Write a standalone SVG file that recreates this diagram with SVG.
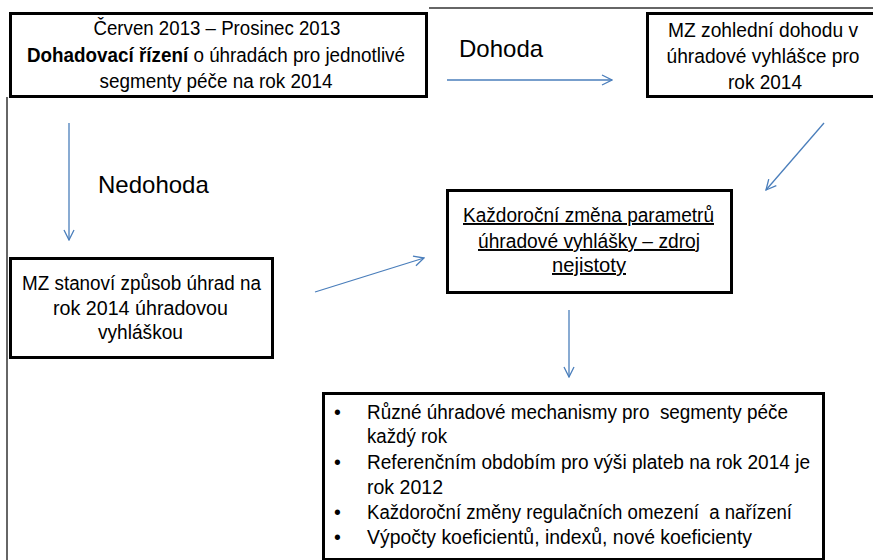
<svg xmlns="http://www.w3.org/2000/svg" width="873" height="560" viewBox="0 0 873 560">
<style>
  .box{fill:#fff;stroke:#000;stroke-width:3}
  .t{font-family:"Liberation Sans",Arial,sans-serif;font-size:19.5px;fill:#000}
  .c{text-anchor:middle}
  .lbl{font-family:"Liberation Sans",Arial,sans-serif;font-size:24px;fill:#000}
  .con{fill:none;stroke:#4a7ebb;stroke-width:1.3}
  .frame{fill:none;stroke:#333;stroke-width:1.5}
</style>
<defs>
  <marker id="ah" viewBox="0 0 12 12" refX="11" refY="6" markerWidth="12" markerHeight="12" markerUnits="userSpaceOnUse" orient="auto">
    <path d="M1,1 L11,6 L1,11" fill="none" stroke="#4a7ebb" stroke-width="1.3"/>
  </marker>
</defs>
<rect width="873" height="560" fill="#fff"/>
<g id="frame">
  <path class="frame" d="M429,8 H873"/>
  <path class="frame" d="M7,97 V560"/>
</g>
<g id="n1">
  <rect class="box" x="10.5" y="13.5" width="416" height="83"/>
  <text class="t c" x="217" y="35" textLength="247" lengthAdjust="spacingAndGlyphs">Červen 2013 – Prosinec 2013</text>
  <text class="t c" x="216" y="62" textLength="378" lengthAdjust="spacingAndGlyphs"><tspan font-weight="bold">Dohadovací řízení</tspan> o úhradách pro jednotlivé</text>
  <text class="t c" x="216" y="88" textLength="233" lengthAdjust="spacingAndGlyphs">segmenty péče na rok 2014</text>
</g>
<g id="n2">
  <rect class="box" x="647.5" y="13.5" width="240" height="83"/>
  <text class="t c" x="763" y="37" textLength="190" lengthAdjust="spacingAndGlyphs">MZ zohlední dohodu v</text>
  <text class="t c" x="763" y="63" textLength="193" lengthAdjust="spacingAndGlyphs">úhradové vyhlášce pro</text>
  <text class="t c" x="765" y="89" textLength="74" lengthAdjust="spacingAndGlyphs">rok 2014</text>
</g>
<g id="n3">
  <rect class="box" x="10.5" y="258.5" width="262" height="99"/>
  <text class="t c" x="141.5" y="290" textLength="239" lengthAdjust="spacingAndGlyphs">MZ stanoví způsob úhrad na</text>
  <text class="t c" x="140.5" y="315" textLength="175" lengthAdjust="spacingAndGlyphs">rok 2014 úhradovou</text>
  <text class="t c" x="140.5" y="339" textLength="85" lengthAdjust="spacingAndGlyphs">vyhláškou</text>
</g>
<g id="n4">
  <rect class="box" x="447.5" y="190.5" width="284" height="102"/>
  <text class="t c" x="588.5" y="222" textLength="251" lengthAdjust="spacingAndGlyphs" text-decoration="underline">Každoroční změna parametrů</text>
  <text class="t c" x="589" y="248" textLength="222" lengthAdjust="spacingAndGlyphs" text-decoration="underline">úhradové vyhlášky – zdroj</text>
  <text class="t c" x="589" y="272" textLength="74" lengthAdjust="spacingAndGlyphs" text-decoration="underline">nejistoty</text>
</g>
<g id="n5">
  <rect class="box" x="323.5" y="393.5" width="500" height="166"/>
  <g class="t">
    <text x="334" y="419">•</text>
    <text x="367" y="419" textLength="421" lengthAdjust="spacingAndGlyphs">Různé úhradové mechanismy pro &#160;segmenty péče</text>
    <text x="367" y="443" textLength="80" lengthAdjust="spacingAndGlyphs">každý rok</text>
    <text x="334" y="469">•</text>
    <text x="367" y="469" textLength="443" lengthAdjust="spacingAndGlyphs">Referenčním obdobím pro výši plateb na rok 2014 je</text>
    <text x="367" y="494" textLength="76" lengthAdjust="spacingAndGlyphs">rok 2012</text>
    <text x="334" y="519">•</text>
    <text x="367" y="519" textLength="425" lengthAdjust="spacingAndGlyphs">Každoroční změny regulačních omezení &#160;a nařízení</text>
    <text x="334" y="544">•</text>
    <text x="367" y="544" textLength="385" lengthAdjust="spacingAndGlyphs">Výpočty koeficientů, indexů, nové koeficienty</text>
  </g>
</g>
<g id="labels">
  <text class="lbl" x="459" y="57">Dohoda</text>
  <text class="lbl" x="98" y="193">Nedohoda</text>
</g>
<g id="connectors">
  <path class="con" d="M447,80 L612,80" marker-end="url(#ah)"/>
  <path class="con" d="M69,123 L69,240" marker-end="url(#ah)"/>
  <path class="con" d="M315,292 L424,258" marker-end="url(#ah)"/>
  <path class="con" d="M824,123 L766,190" marker-end="url(#ah)"/>
  <path class="con" d="M569,310 L569,377" marker-end="url(#ah)"/>
</g>
</svg>
